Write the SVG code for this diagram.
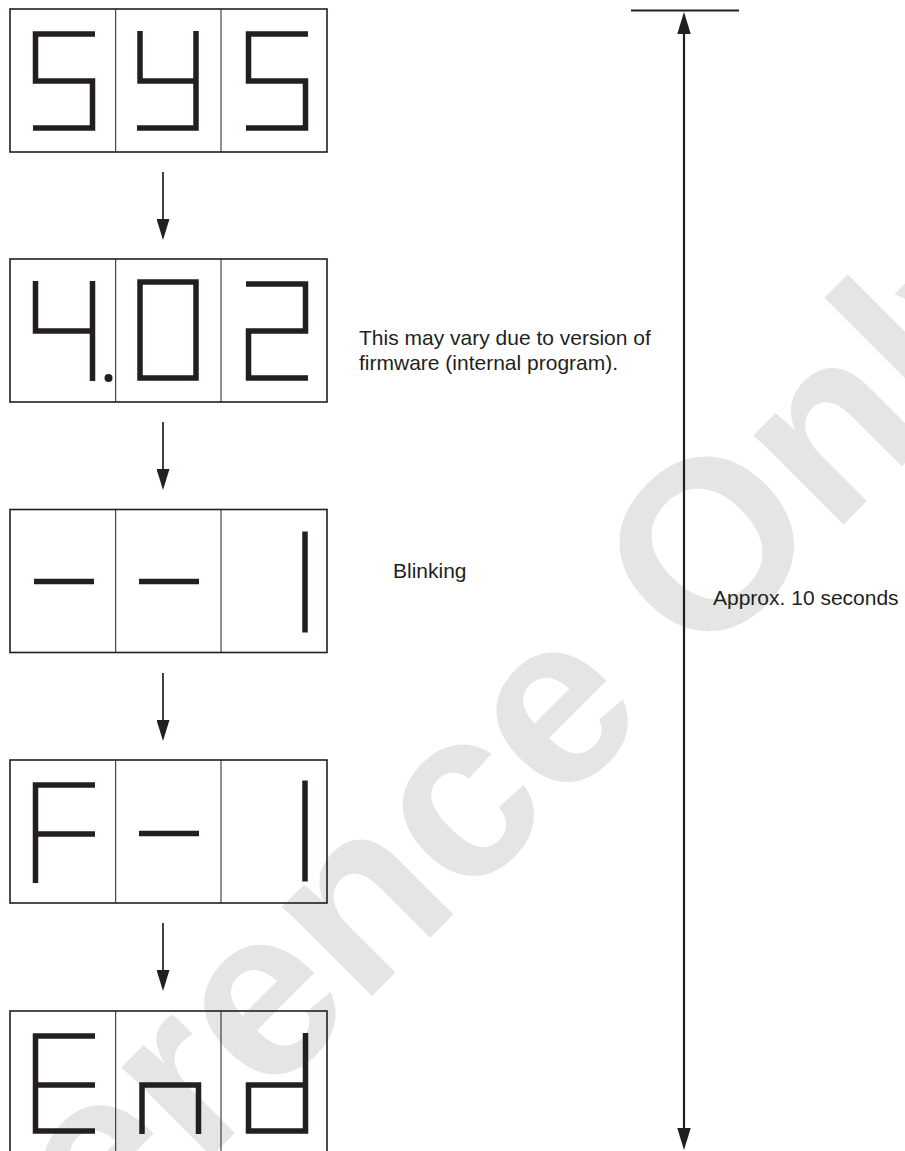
<svg xmlns="http://www.w3.org/2000/svg" width="905" height="1151" viewBox="0 0 905 1151">
  <style>
    .frame { fill: none; stroke: #231f20; stroke-width: 1.6; }
    .div { stroke: #231f20; stroke-width: 1; }
    .seg { fill: none; stroke: #231f20; stroke-width: 5.5; stroke-linejoin: miter; stroke-linecap: butt; }
    .conn { fill: none; stroke: #231f20; stroke-width: 1.7; }
    .time { fill: none; stroke: #231f20; stroke-width: 2.2; }
    .lbl { font-family: "Liberation Sans", Arial, sans-serif; font-size: 21px; fill: #231f20; }
    .wm { font-family: "Liberation Sans", Arial, sans-serif; font-weight: bold; font-size: 240px; fill: #e5e5e5; }
  </style>
  <defs>
    <marker id="ah" viewBox="0 0 21 13" refX="1" refY="6.5" markerWidth="21" markerHeight="13" markerUnits="userSpaceOnUse" orient="auto">
      <path d="M0,0 L21,6.5 L0,13 Z" fill="#231f20"/>
    </marker>
    <marker id="ahBig" viewBox="0 0 22 13.5" refX="1" refY="6.75" markerWidth="22" markerHeight="13.5" markerUnits="userSpaceOnUse" orient="auto-start-reverse">
      <path d="M0,0 L22,6.75 L0,13.5 Z" fill="#231f20"/>
    </marker>
    <g id="box3">
      <rect class="frame" x="10" y="0" width="317" height="143"/>
      <line class="div" x1="115.7" y1="0" x2="115.7" y2="143"/>
      <line class="div" x1="221" y1="0" x2="221" y2="143"/>
    </g>
  </defs>

  <g id="watermark">
    <text class="wm" transform="translate(-168,1536) rotate(-45)">Reference Only</text>
  </g>

  <g id="node-sys">
    <use href="#box3" y="9"/>
    <path class="seg" d="M95 34 H35.5 V81 H92.5 V128 H33"/>
    <path class="seg" d="M140 31 V81 H196 M196 31 V128 H137"/>
    <path class="seg" d="M308 34 H248.5 V81 H305.5 V128 H246"/>
  </g>

  <g id="node-402">
    <use href="#box3" y="259"/>
    <path class="seg" d="M35.5 281 V331 H95 M92.5 281 V381"/>
    <circle cx="108.5" cy="378" r="4" fill="#231f20"/>
    <rect class="seg" x="140" y="282" width="56" height="96"/>
    <path class="seg" d="M246 284 H305.5 V331 H248.5 V378 H308"/>
  </g>

  <g id="node-blink">
    <use href="#box3" y="509.5"/>
    <path class="seg" d="M34 581.5 H94"/>
    <path class="seg" d="M139 581.5 H199"/>
    <path class="seg" d="M305 531.5 V632.5"/>
  </g>

  <g id="node-f1">
    <use href="#box3" y="760"/>
    <path class="seg" d="M95 785 H35.5 V883 M35.5 834 H95"/>
    <path class="seg" d="M139 833.5 H199"/>
    <path class="seg" d="M305 780.5 V881.5"/>
  </g>

  <g id="node-end">
    <use href="#box3" y="1011"/>
    <path class="seg" d="M95 1036 H35.5 V1131 H95 M35.5 1085 H95"/>
    <path class="seg" d="M142 1134 V1085 H198.5 V1134"/>
    <path class="seg" d="M305.5 1033 V1131 H248.5 V1085 H308"/>
  </g>

  <g id="connectors">
    <line class="conn" x1="163" y1="172" x2="163" y2="220" marker-end="url(#ah)"/>
    <line class="conn" x1="163" y1="422" x2="163" y2="470" marker-end="url(#ah)"/>
    <line class="conn" x1="163" y1="673" x2="163" y2="721" marker-end="url(#ah)"/>
    <line class="conn" x1="163" y1="923" x2="163" y2="971" marker-end="url(#ah)"/>
  </g>

  <g id="timeline">
    <line class="time" x1="631" y1="10.5" x2="739" y2="10.5"/>
    <line class="time" x1="684" y1="33" x2="684" y2="1129" marker-start="url(#ahBig)" marker-end="url(#ahBig)"/>
  </g>

  <g id="labels">
    <text class="lbl" x="359" y="345">This may vary due to version of</text>
    <text class="lbl" x="359" y="370">firmware (internal program).</text>
    <text class="lbl" x="393" y="578">Blinking</text>
    <text class="lbl" x="713" y="605">Approx. 10 seconds</text>
  </g>
</svg>
